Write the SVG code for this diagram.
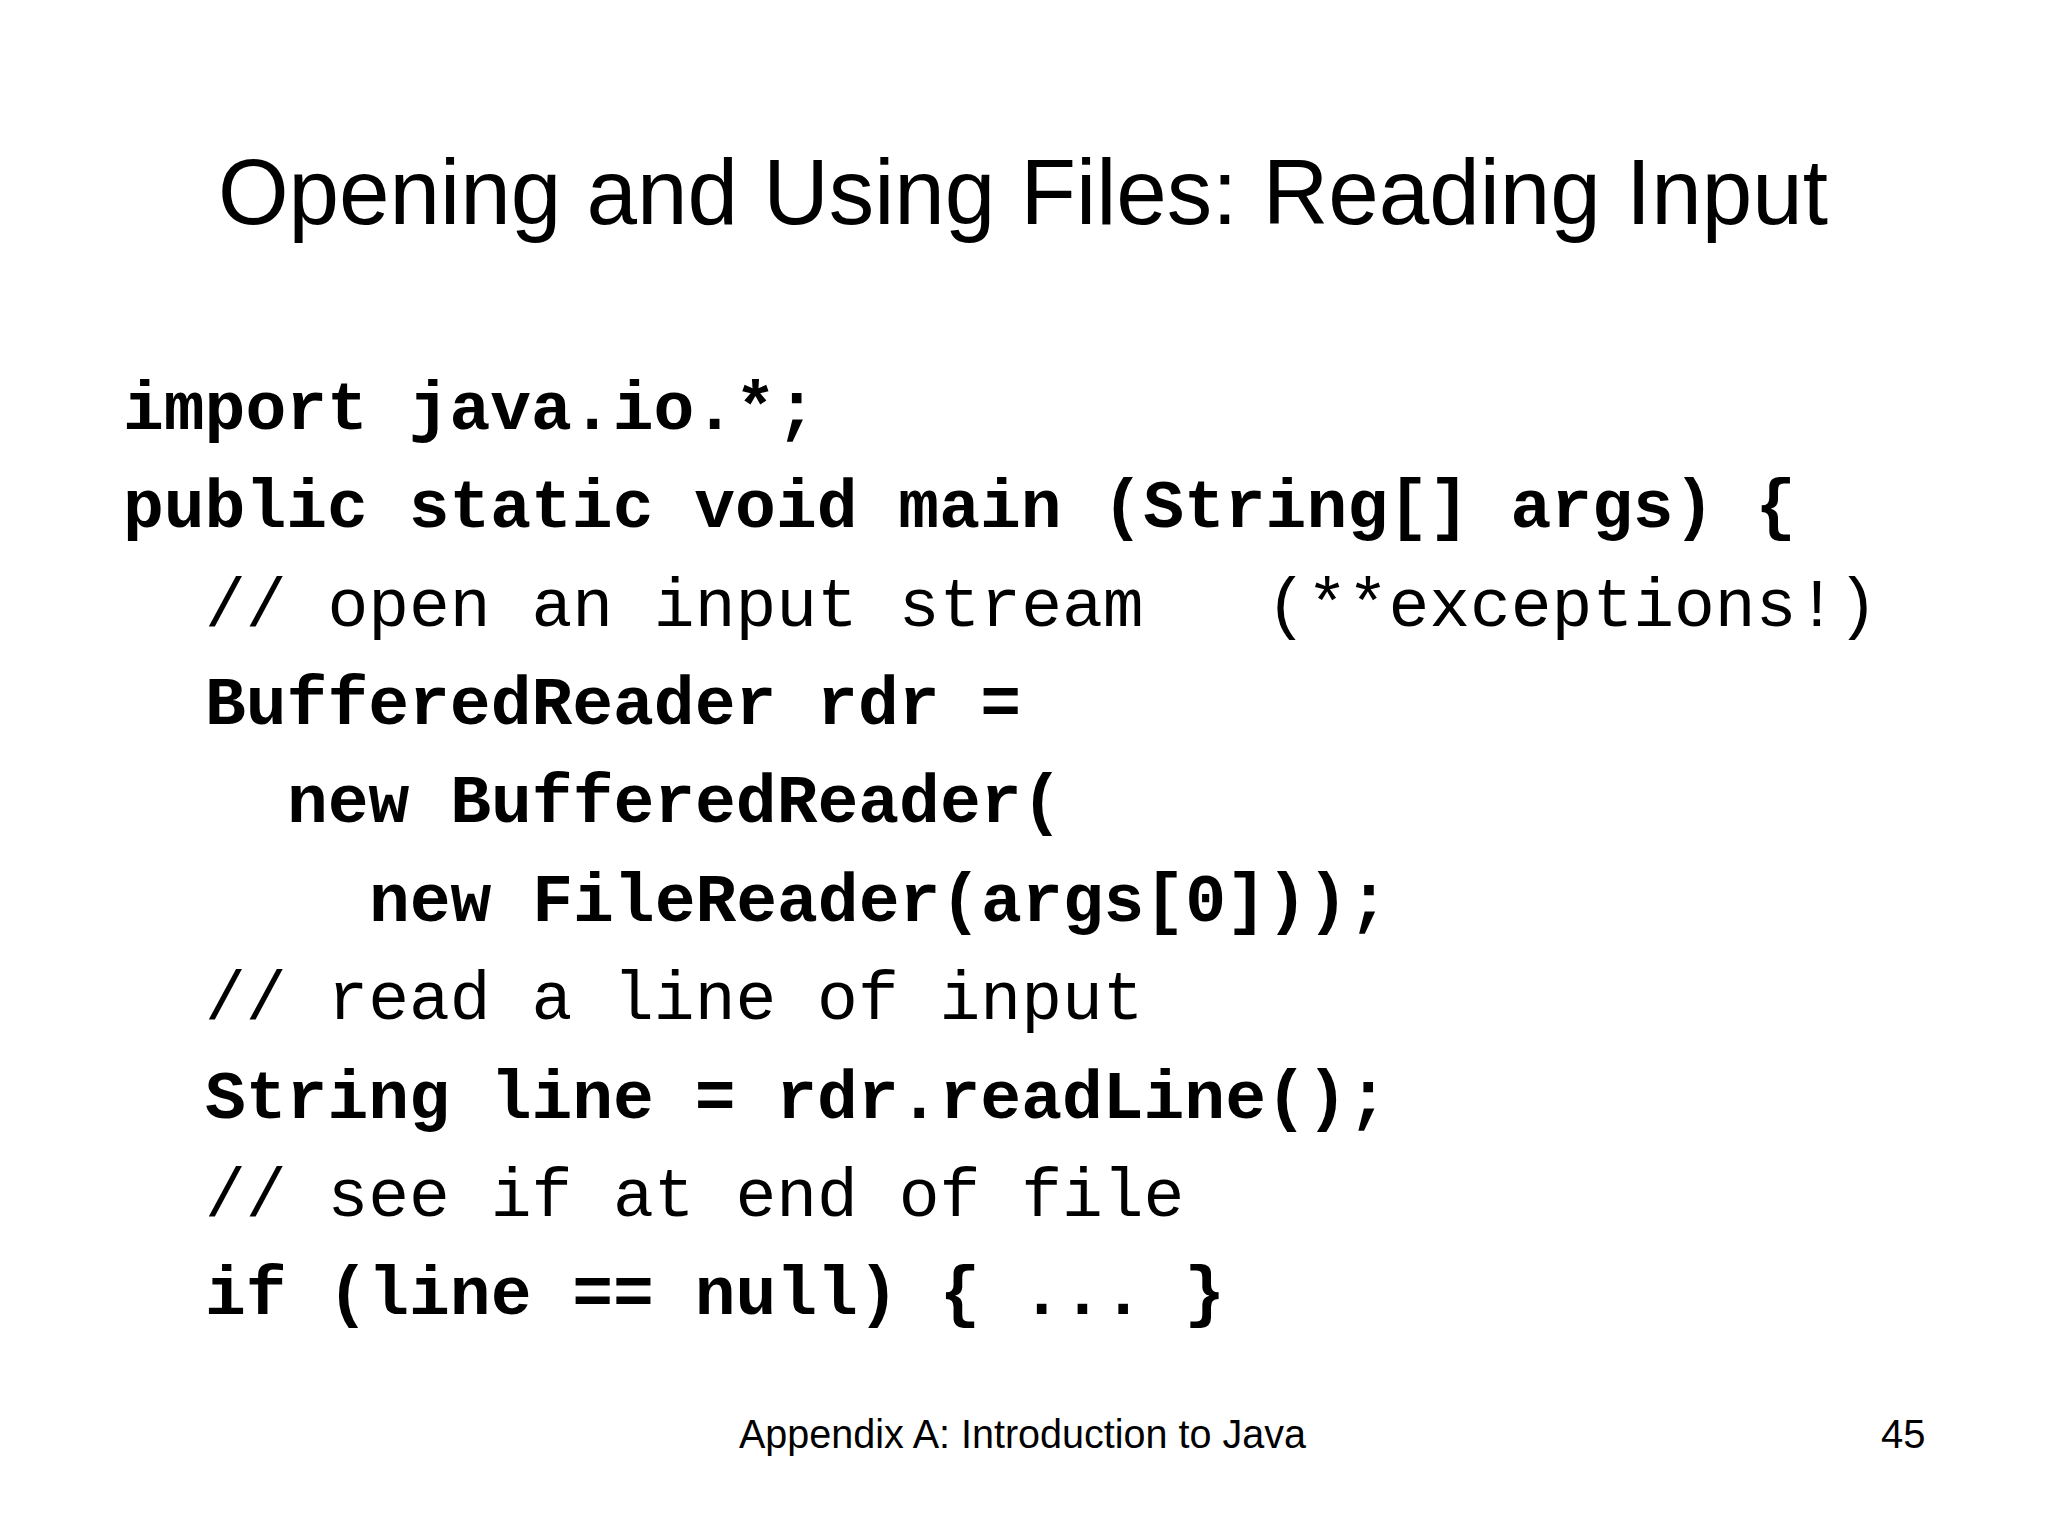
<svg xmlns="http://www.w3.org/2000/svg" width="2048" height="1536" viewBox="0 0 2048 1536">
<style>
.title{font-family:"Liberation Sans",Arial,sans-serif;font-size:92px;fill:#000}
.code{font-family:"Liberation Mono","Courier New",monospace;font-size:68px;fill:#000;white-space:pre}
.b{font-weight:bold}
.foot{font-family:"Liberation Sans",Arial,sans-serif;font-size:40px;fill:#000}
</style>
<rect x="0" y="0" width="2048" height="1536" fill="#fff"/>
<g id="title">
<text class="title" x="218" y="224" textLength="1610" lengthAdjust="spacingAndGlyphs">Opening and Using Files: Reading Input</text>
</g>
<g id="code" xml:space="preserve">
<text class="code b" x="123" y="429">import java.io.*;</text>
<text class="code b" x="123" y="527">public static void main (String[] args) {</text>
<text class="code" x="205" y="626">// open an input stream   (**exceptions!)</text>
<text class="code b" x="205" y="724">BufferedReader rdr =</text>
<text class="code b" x="287" y="822">new BufferedReader(</text>
<text class="code b" x="369" y="921">new FileReader(args[0]));</text>
<text class="code" x="205" y="1019">// read a line of input</text>
<text class="code b" x="205" y="1118">String line = rdr.readLine();</text>
<text class="code" x="205" y="1216">// see if at end of file</text>
<text class="code b" x="205" y="1314">if (line == null) { ... }</text>
</g>
<g id="footer">
<text class="foot" x="739" y="1448" textLength="567" lengthAdjust="spacingAndGlyphs">Appendix A: Introduction to Java</text>
<text class="foot" x="1881" y="1448">45</text>
</g>
</svg>
